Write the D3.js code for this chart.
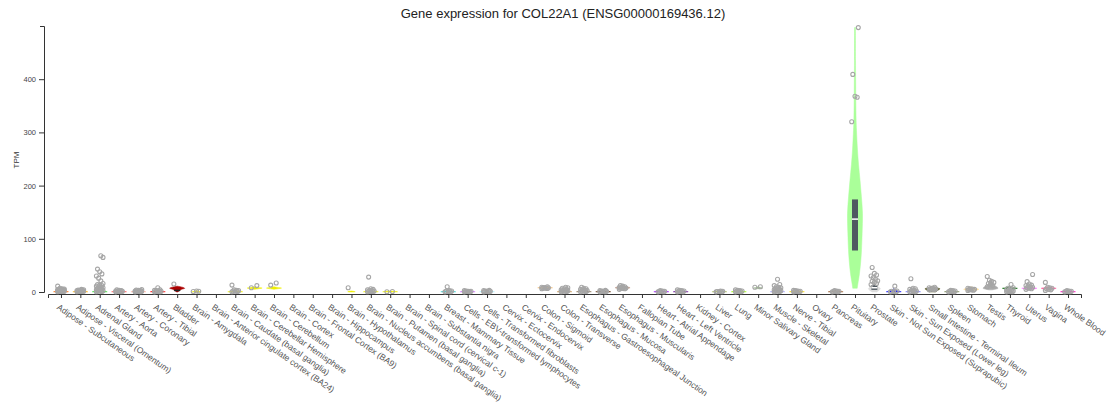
<!DOCTYPE html>
<html>
<head>
<meta charset="utf-8">
<script src="https://cdn.jsdelivr.net/npm/d3@7"></script>
<style>
  body { margin: 0; background: #fff; }
  svg { font-family: "Liberation Sans", Arial, sans-serif; }
</style>
</head>
<body>
<div id="chart"></div>
<script>
const title = "Gene expression for COL22A1 (ENSG00000169436.12)";

const tissues = [
  "Adipose - Subcutaneous", "Adipose - Visceral (Omentum)", "Adrenal Gland",
  "Artery - Aorta", "Artery - Coronary", "Artery - Tibial", "Bladder",
  "Brain - Amygdala", "Brain - Anterior cingulate cortex (BA24)",
  "Brain - Caudate (basal ganglia)", "Brain - Cerebellar Hemisphere",
  "Brain - Cerebellum", "Brain - Cortex", "Brain - Frontal Cortex (BA9)",
  "Brain - Hippocampus", "Brain - Hypothalamus",
  "Brain - Nucleus accumbens (basal ganglia)", "Brain - Putamen (basal ganglia)",
  "Brain - Spinal cord (cervical c-1)", "Brain - Substantia nigra",
  "Breast - Mammary Tissue", "Cells - EBV-transformed lymphocytes",
  "Cells - Transformed fibroblasts", "Cervix - Ectocervix", "Cervix - Endocervix",
  "Colon - Sigmoid", "Colon - Transverse",
  "Esophagus - Gastroesophageal Junction", "Esophagus - Mucosa",
  "Esophagus - Muscularis", "Fallopian Tube", "Heart - Atrial Appendage",
  "Heart - Left Ventricle", "Kidney - Cortex", "Liver", "Lung",
  "Minor Salivary Gland", "Muscle - Skeletal", "Nerve - Tibial", "Ovary",
  "Pancreas", "Pituitary", "Prostate", "Skin - Not Sun Exposed (Suprapubic)",
  "Skin - Sun Exposed (Lower leg)", "Small Intestine - Terminal Ileum",
  "Spleen", "Stomach", "Testis", "Thyroid", "Uterus", "Vagina", "Whole Blood"
];

const tissueColors = [
  "#FF6600", "#FFAA00", "#33DD33", "#FF5555", "#FFAA99", "#FF0000", "#AA0000",
  "#EEEE00", "#EEEE00", "#EEEE00", "#EEEE00", "#EEEE00", "#EEEE00", "#EEEE00",
  "#EEEE00", "#EEEE00", "#EEEE00", "#EEEE00", "#EEEE00", "#EEEE00",
  "#33CCCC", "#CC66FF", "#AAEEFF", "#FFCCCC", "#CCAADD", "#EEBB77", "#CC9955",
  "#8B7355", "#552200", "#BB9988", "#FFCCCC", "#9900FF", "#660099", "#22FFDD",
  "#AABB66", "#99FF00", "#99BB88", "#AAAAFF", "#FFD700", "#FFAAFF", "#995522",
  "#AAFF99", "#DDDDDD", "#0000FF", "#7777FF", "#555522", "#778855", "#FFDD99",
  "#AAAAAA", "#006600", "#FF66FF", "#FF5599", "#FF00BB"
];

// violin outline per tissue: [TPM, relative density], null = nothing drawn
const nearZero = [[0, 0.7], [0.5, 1], [1.5, 0.45], [3, 0.1], [5, 0]];
const violinProfiles = [
  nearZero, nearZero, [[0, 0.7], [0.5, 1], [2, 0.5], [4, 0.1], [8, 0]], nearZero, nearZero, nearZero,
  [[0, 0.1], [2, 0.25], [5, 0.6], [7, 1], [9, 0.7], [11, 0]],
  [[0, 0.3], [0.5, 0.6], [1.5, 0.2], [3, 0]], null, nearZero,
  [[5, 0], [6.5, 0.7], [7.5, 1], [8.5, 0.5], [10, 0]],
  [[5, 0], [6.5, 0.7], [7.5, 1], [8.5, 0.5], [10, 0]],
  null, null, null, [[0, 0.3], [0.5, 0.5], [2, 0]], nearZero, [[0, 0.5], [0.5, 1], [2, 0]],
  null, null, nearZero, nearZero, nearZero, null, null,
  [[5, 0], [7, 0.6], [8, 1], [9, 0.5], [11, 0]],
  [[0, 0.7], [0.5, 1], [2, 0.5], [4, 0.15], [7, 0]],
  [[0, 0.7], [0.5, 1], [2, 0.5], [4, 0.15], [7, 0]],
  nearZero, [[4, 0], [6, 0.5], [8, 1], [10, 0.5], [12, 0]], null,
  nearZero, nearZero, null, nearZero, nearZero,
  [[6, 0], [7.5, 0.6], [8.5, 0.3], [10, 0]],
  [[0, 0.7], [0.5, 1], [2, 0.5], [5, 0.1], [10, 0]], nearZero, null, nearZero,
  [[7, 0.3], [15, 0.38], [35, 0.6], [60, 0.78], [80, 0.87], [110, 0.95], [148, 1],
   [180, 0.85], [210, 0.67], [240, 0.47], [267, 0.33], [304, 0.2], [323, 0.15],
   [360, 0.11], [400, 0.09], [435, 0.07], [497, 0.06]],
  [[0, 0.3], [3, 0.6], [6, 0.8], [8, 0.7], [12, 0.3], [18, 0.1], [25, 0]],
  [[0, 0.7], [0.5, 1], [2, 0.5], [4, 0.1], [7, 0]],
  [[0, 0.7], [0.5, 1], [2, 0.5], [4, 0.1], [7, 0]],
  [[0, 0.4], [3, 0.7], [6, 1], [8, 0.5], [11, 0]], nearZero,
  [[2, 0.3], [5, 1], [7, 0.6], [10, 0]],
  [[4, 0.2], [7, 1], [9, 0.9], [12, 0.5], [16, 0.3], [20, 0.2], [24, 0]],
  [[4, 0], [6, 0.7], [7, 1], [8, 0.6], [10, 0]],
  [[4, 0], [6, 0.7], [7, 1], [8, 0.6], [10, 0]],
  [[4, 0], [6, 0.7], [7, 1], [8, 0.6], [10, 0]],
  nearZero
];

// box (q1, median, q3) only where it can be seen
const boxQ1 = tissues.map(() => null);
const boxMedian = tissues.map(() => null);
const boxQ3 = tissues.map(() => null);
boxQ1[6] = 2; boxMedian[6] = 3; boxQ3[6] = 3.6;          // Bladder
boxQ1[41] = 78; boxMedian[41] = 137; boxQ3[41] = 174;    // Pituitary
boxQ1[42] = 4; boxMedian[42] = 8; boxQ3[42] = 13;        // Prostate

// outlier samples (TPM)
const outliers = [
  [0.5, 1, 1, 1.5, 1.5, 2, 2, 2.5, 2.5, 3, 3, 3.5, 3.5, 4, 4, 4.5, 5, 5, 5.5, 6, 7, 11],
  [0.5, 1, 1, 1.5, 1.5, 2, 2, 2.5, 3, 3, 3.5, 4, 5],
  [0.5, 1, 1.5, 2, 2.5, 3, 3.5, 4, 5, 6, 7, 8, 9, 10, 11, 12, 13, 14, 16, 21, 26, 30, 34, 38, 43, 65, 68],
  [0.3, 0.6, 1, 1, 1.5, 1.5, 2, 2, 2.5, 3, 4],
  [0.3, 0.6, 1, 1, 1.5, 1.5, 2, 2, 2.5, 3, 3.5, 4.5],
  [0.3, 0.6, 1, 1, 1.5, 2, 2.5, 3, 4, 8],
  [15],
  [1, 1.5, 2],
  [],
  [0.5, 1, 1.5, 2, 2.5, 3, 4, 13],
  [8, 12],
  [13, 17],
  [], [], [],
  [8],
  [0.5, 1, 1, 1.5, 2, 2.5, 3, 4, 5, 6, 28],
  [0.5, 0.8],
  [], [],
  [0.3, 0.6, 1, 1.5, 2, 2.5, 10],
  [0.3, 0.6, 1, 1, 1.5, 1.5, 2, 2.5],
  [0.3, 0.6, 1, 1, 1.5, 1.5, 2, 2.5, 3],
  [], [],
  [6, 6.5, 7, 7.5, 8, 8, 8.5, 9, 10],
  [0.5, 1, 1.5, 2, 2.5, 3, 3.5, 4, 5, 6, 7, 8, 9],
  [0.5, 1, 1.5, 2, 2.5, 3, 4, 5, 6, 7, 9],
  [0.3, 0.6, 1, 1, 1.5, 1.5, 2, 2.5, 3],
  [5, 6, 6.5, 7, 7.5, 8, 8.5, 9, 10, 11, 12],
  [],
  [0.3, 0.6, 1, 1, 1.5, 2, 2.5],
  [0.3, 0.6, 1, 1.5, 2, 2.5, 3, 4],
  [],
  [0.3, 0.6, 1, 1, 1.5, 2],
  [0.3, 0.6, 1, 1.5, 2, 2.5, 3, 4],
  [9, 10],
  [0.5, 1, 1.5, 2, 2.5, 3, 3.5, 4, 5, 6, 7, 8, 9, 10, 12, 14, 24],
  [0.3, 0.6, 1, 1, 1.5, 2, 2.5, 3],
  [],
  [0.3, 0.6, 1, 1, 1.5, 2, 2.5],
  [320, 366, 368, 409, 497],
  [14, 16, 18, 20, 21, 24, 27, 30, 32, 35, 46],
  [0.3, 0.6, 1, 1.5, 2, 11],
  [0.3, 0.6, 1, 1.5, 2, 3, 4, 5, 6, 7, 25],
  [4, 4.5, 5, 5.5, 6, 6.5, 7, 8, 9],
  [0.3, 0.6, 1, 1.5, 2, 2.5, 3],
  [3, 3.5, 4, 4.5, 5, 5.5, 6, 7],
  [10, 12, 14, 16, 18, 20, 22, 29],
  [0.3, 0.6, 1, 1.5, 2, 2.5, 3, 4, 5, 6, 7, 8, 14],
  [5, 6, 7, 8, 9, 10, 11, 12, 13, 15, 19.5, 33],
  [3, 4, 5, 6, 7, 8, 9, 18],
  [0.3, 0.6, 1, 1, 1.5, 2, 2.5]
];

const yTicks = [0, 100, 200, 300, 400];
const yMax = 500;

const width = 1112, height = 403;

const svg = d3.select("#chart").append("svg")
    .attr("width", width)
    .attr("height", height);

const x = d3.scalePoint()
    .domain(tissues)
    .range([48, 1081])
    .padding(0.67);

const y = d3.scaleLinear()
    .domain([0, yMax])
    .range([292, 26]);

const w = d3.scaleLinear().domain([0, 1]).range([0, 7.5]);

// title
svg.append("text")
    .attr("x", 563)
    .attr("y", 18)
    .attr("text-anchor", "middle")
    .attr("font-size", 13)
    .attr("fill", "#222")
    .text(title);

// y axis
svg.append("g")
    .attr("transform", "translate(44,0)")
    .call(d3.axisLeft(y).tickValues(yTicks).tickSize(5).tickSizeOuter(4).tickPadding(3))
    .call(g => g.attr("color", "#333"))
    .call(g => g.selectAll("text").attr("font-size", 7.5).attr("fill", "#444").attr("font-family", null));

svg.append("text")
    .attr("transform", "translate(19,160) rotate(-90)")
    .attr("text-anchor", "middle")
    .attr("font-size", 8)
    .attr("fill", "#333")
    .text("TPM");

// x axis
svg.append("g")
    .attr("transform", "translate(0,294)")
    .call(d3.axisBottom(x).tickSize(4).tickSizeOuter(4).tickFormat(""))
    .call(g => g.attr("color", "#333"));

svg.append("g").selectAll("text")
  .data(tissues)
  .join("text")
    .attr("transform", d => `translate(${x(d) - 3},306) rotate(35)`)
    .attr("dy", "0.35em")
    .attr("font-size", 8.5)
    .attr("fill", "#555")
    .text(d => d);

// violins
const plot = svg.append("g");

tissues.forEach((t, i) => {
  const prof = violinProfiles[i];
  if (!prof) return;
  const cx = x(t);
  const area = d3.area()
      .curve(d3.curveCatmullRom)
      .y(d => y(d[0]))
      .x0(d => cx - w(d[1]))
      .x1(d => cx + w(d[1]));
  plot.append("path")
      .attr("d", area(prof))
      .attr("fill", tissueColors[i])
      .attr("stroke", tissueColors[i])
      .attr("stroke-width", 0.5);
});

// boxes
tissues.forEach((t, i) => {
  if (boxQ1[i] == null) return;
  const cx = x(t);
  plot.append("rect")
      .attr("x", cx - 3)
      .attr("width", 6)
      .attr("y", y(boxQ3[i]))
      .attr("height", Math.max(1, y(boxQ1[i]) - y(boxQ3[i])))
      .attr("fill", "#4f5961");
  plot.append("line")
      .attr("x1", cx - 3).attr("x2", cx + 3)
      .attr("y1", y(boxMedian[i])).attr("y2", y(boxMedian[i]))
      .attr("stroke", i === 6 ? "#222" : "#fff")
      .attr("stroke-width", 1.5);
});

// outlier points, spread a little sideways
tissues.forEach((t, i) => {
  const cx = x(t);
  plot.append("g").selectAll("circle")
    .data(outliers[i])
    .join("circle")
      .attr("cx", (d, j) => cx + (((j * 5) % 7) - 3) * 1.1)
      .attr("cy", d => y(d))
      .attr("r", 2)
      .attr("fill", "none")
      .attr("stroke", "#a6a6a6")
      .attr("stroke-width", 1.1);
});
</script>
</body>
</html>
